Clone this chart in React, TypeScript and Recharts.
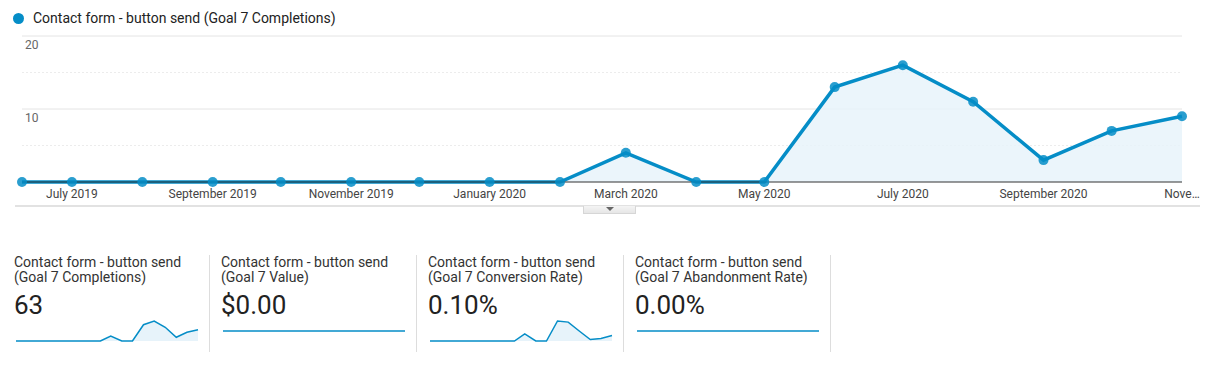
import React from "react";
import { ComposedChart, AreaChart, Area, XAxis, YAxis, ReferenceLine } from "recharts";

// ---- data ----
const dates = [
  "2019-06-09", "2019-07-01", "2019-08-01", "2019-09-01", "2019-10-01", "2019-11-01",
  "2019-12-01", "2020-01-01", "2020-02-01", "2020-03-01", "2020-04-01", "2020-05-01",
  "2020-06-01", "2020-07-01", "2020-08-01", "2020-09-01", "2020-10-01", "2020-11-01",
];
const completions = [0, 0, 0, 0, 0, 0, 0, 0, 0, 4, 0, 0, 13, 16, 11, 3, 7, 9];
const goalValue = [0, 0, 0, 0, 0, 0, 0, 0, 0, 0, 0, 0, 0, 0, 0, 0, 0, 0];
const conversionRate = [0, 0, 0, 0, 0, 0, 0, 0, 0, 0.095, 0, 0, 0.27, 0.255, 0.135, 0.02, 0.035, 0.075];
const abandonmentRate = [0, 0, 0, 0, 0, 0, 0, 0, 0, 0, 0, 0, 0, 0, 0, 0, 0, 0];

const tickDates = [
  "2019-07-01", "2019-09-01", "2019-11-01", "2020-01-01", "2020-03-01",
  "2020-05-01", "2020-07-01", "2020-09-01", "2020-11-01",
];
const tickLabels = [
  "July 2019", "September 2019", "November 2019", "January 2020", "March 2020",
  "May 2020", "July 2020", "September 2020", "Nove…",
];
const yLabelTicks = [10, 20];
const yMinorLines = [5, 15];
const yMajorLines = [10, 20];

const seriesName = "Contact form - button send (Goal 7 Completions)";
const cardTitles = [
  ["Contact form - button send", "(Goal 7 Completions)"],
  ["Contact form - button send", "(Goal 7 Value)"],
  ["Contact form - button send", "(Goal 7 Conversion Rate)"],
  ["Contact form - button send", "(Goal 7 Abandonment Rate)"],
];
const cardValues = ["63", "$0.00", "0.10%", "0.00%"];
const cardSeries = [completions, goalValue, conversionRate, abandonmentRate];

// ---- helpers ----
const DAY = 86400000;
const t0 = Date.parse(dates[0]);
const toDay = (d: string) => Math.round((Date.parse(d) - t0) / DAY);
const xs = dates.map(toDay);
const xTicks = tickDates.map(toDay);
const mainData = xs.map((t, i) => ({ t, v: completions[i] }));

const BLUE = "#058dc7";
const FILL = "#e7f3fa";
const FONT = "Roboto, 'Noto Sans', Arial, sans-serif";
const X_DOMAIN: [number, number] = [xs[0], xs[xs.length - 1]];

const XTick = (p: any) => {
  const idx = xTicks.indexOf(p.payload.value);
  return (
    <text x={p.x} y={p.y + 16} textAnchor="middle" fontSize={12} style={{ fill: "#444" }} fontFamily={FONT}>
      {tickLabels[idx]}
    </text>
  );
};

const Spark = ({ values, flat }: { values: number[]; flat: boolean }) => {
  const data = xs.map((t, i) => ({ t, v: values[i] }));
  return (
    <AreaChart width={184} height={25} data={data} margin={{ top: 3, right: 1, bottom: 2, left: 1 }}>
      <XAxis type="number" dataKey="t" domain={X_DOMAIN} hide />
      <YAxis domain={flat ? [-1, 1] : [0, "dataMax"]} hide />
      <Area
        type="linear"
        dataKey="v"
        stroke={BLUE}
        strokeWidth={1.5}
        fill={flat ? "none" : FILL}
        fillOpacity={1}
        dot={false}
        isAnimationActive={false}
      />
    </AreaChart>
  );
};

export default function App() {
  return (
    <div style={{ position: "relative", width: 1194, height: 350, fontFamily: FONT }}>
      {/* legend */}
      <div
        style={{
          position: "absolute", left: 4.5, top: 4.5, width: 11, height: 11,
          borderRadius: "50%", background: BLUE,
        }}
      />
      <div
        style={{
          position: "absolute", left: 25, top: 0, height: 20, lineHeight: "20px",
          fontSize: 14, color: "#222", whiteSpace: "nowrap",
        }}
      >
        {seriesName}
      </div>

      {/* background chart: gridlines + y labels */}
      <div style={{ position: "absolute", left: 0, top: 0 }}>
        <ComposedChart width={1194} height={200} data={mainData} margin={{ top: 28, right: 20, bottom: 26, left: 14 }}>
          <XAxis type="number" dataKey="t" domain={X_DOMAIN} hide />
          <YAxis type="number" domain={[0, 20]} hide />
          <Area dataKey="v" stroke="none" fill="none" dot={false} activeDot={false} isAnimationActive={false} />
          {yMinorLines.map((y) => (
            <ReferenceLine key={"m" + y} y={y} stroke="#ececec" strokeDasharray="2 2" />
          ))}
          {yMajorLines.map((y) => (
            <ReferenceLine key={"M" + y} y={y} stroke="#e4e4e4" />
          ))}
          {yLabelTicks.map((y) => (
            <ReferenceLine
              key={"L" + y}
              y={y}
              stroke="none"
              label={(lp: any) => (
                <text
                  x={lp.viewBox.x + 3}
                  y={lp.viewBox.y + 13}
                  fontSize={12}
                  style={{ fill: "#666" }}
                  fontFamily={FONT}
                >
                  {y}
                </text>
              )}
            />
          ))}
        </ComposedChart>
      </div>

      {/* main chart */}
      <div style={{ position: "absolute", left: 0, top: 0 }}>
        <ComposedChart width={1194} height={200} data={mainData} margin={{ top: 28, right: 20, bottom: 6, left: 14 }}>
          <XAxis
            type="number"
            dataKey="t"
            domain={X_DOMAIN}
            ticks={xTicks}
            tick={<XTick />}
            tickLine={false}
            tickSize={0}
            tickMargin={0}
            height={20}
            axisLine={{ stroke: "#333", strokeWidth: 1 }}
            interval={0}
          />
          <YAxis type="number" domain={[0, 20]} hide />
          <Area
            type="linear"
            dataKey="v"
            stroke={BLUE}
            strokeWidth={3.5}
            fill={FILL}
            fillOpacity={0.85}
            dot={{ r: 5, fill: BLUE, stroke: BLUE, strokeWidth: 0 }}
            activeDot={false}
            isAnimationActive={false}
          />
        </ComposedChart>
      </div>

      {/* bottom border & toggle tab */}
      <div style={{ position: "absolute", left: 7, top: 197, width: 1185, height: 2, background: "#e2e2e2" }} />
      <div
        style={{
          position: "absolute", left: 575, top: 198, width: 53, height: 8,
          background: "linear-gradient(#f4f4f4, #e6e6e6)", border: "1px solid #d6d6d6", borderTop: "none",
          boxSizing: "border-box",
        }}
      >
        <div
          style={{
            position: "absolute", left: 22, top: 1, width: 0, height: 0,
            borderLeft: "4px solid transparent", borderRight: "4px solid transparent", borderTop: "4px solid #666",
          }}
        />
      </div>

      {/* scorecards */}
      {cardTitles.map((title, i) => (
        <div key={i} style={{ position: "absolute", left: 6 + 207 * i, top: 247, width: 195, height: 100 }}>
          <div style={{ fontSize: 14, lineHeight: "15px", color: "#333", whiteSpace: "nowrap" }}>
            {title[0]}
            <br />
            {title[1]}
          </div>
          <div
            style={{
              position: "absolute", left: 0, top: 35, fontSize: 26, lineHeight: "30px", color: "#222",
            }}
          >
            {cardValues[i]}
          </div>
          <div style={{ position: "absolute", left: 1, top: 63 }}>
            <Spark values={cardSeries[i]} flat={i === 1 || i === 3} />
          </div>
          <div
            style={{
              position: "absolute", left: 195, top: 0, width: 1, height: 97, background: "#dddddd",
            }}
          />
        </div>
      ))}
    </div>
  );
}
